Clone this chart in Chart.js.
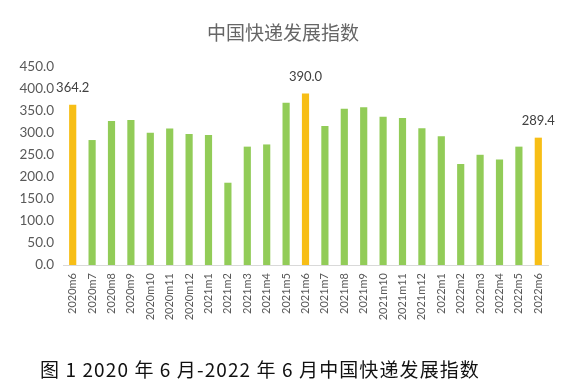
<!DOCTYPE html>
<html>
<head>
<meta charset="utf-8">
<script src="https://cdn.jsdelivr.net/npm/chart.js@4/dist/chart.umd.min.js"></script>
<style>
  html, body { margin: 0; padding: 0; background: #fff; }
  #wrap { position: relative; width: 581px; height: 391px; }
  #caption { position: absolute; left: 40px; top: 355px; font-family: "Noto Sans CJK SC", sans-serif; font-size: 19px; color: #111; white-space: nowrap; letter-spacing: 1.1px; }
</style>
</head>
<body>
<div id="wrap">
  <canvas id="c" width="581" height="391"></canvas>
  <div id="caption">图 1 2020 年 6 月-2022 年 6 月中国快递发展指数</div>
</div>
<script>
const categories = ["2020m6","2020m7","2020m8","2020m9","2020m10","2020m11","2020m12",
  "2021m1","2021m2","2021m3","2021m4","2021m5","2021m6","2021m7","2021m8","2021m9",
  "2021m10","2021m11","2021m12","2022m1","2022m2","2022m3","2022m4","2022m5","2022m6"];
const values = [364.2, 284, 327, 329.5, 300.5, 310.5, 298, 295.5, 187, 269, 274, 369,
  390.0, 316, 355, 358.5, 337, 334, 311, 292.5, 229.5, 250.5, 240, 269, 289.4];
const highlighted = ["2020m6", "2021m6", "2022m6"];
const yTicks = [0, 50, 100, 150, 200, 250, 300, 350, 400, 450];
const titleText = "中国快递发展指数";

const GREEN = "#92CC58", YELLOW = "#F7BE16";
const colors = categories.map(c => highlighted.includes(c) ? YELLOW : GREEN);

const valueLabels = {
  id: "valueLabels",
  afterDatasetsDraw(chart) {
    const ctx = chart.ctx;
    const meta = chart.getDatasetMeta(0);
    ctx.save();
    ctx.font = "13px Lato, sans-serif";
    ctx.fillStyle = "#404040";
    ctx.textAlign = "center";
    ctx.textBaseline = "middle";
    meta.data.forEach((el, i) => {
      if (!highlighted.includes(categories[i])) return;
      ctx.fillText(values[i].toFixed(1), el.x, el.y - 17);
    });
    // chart title
    ctx.font = "19px 'Noto Sans CJK SC', sans-serif";
    ctx.fillStyle = "#666666";
    ctx.fillText(titleText, 283, 33);
    ctx.restore();
  }
};

new Chart(document.getElementById("c"), {
  type: "bar",
  data: {
    labels: categories,
    datasets: [{ data: values, backgroundColor: colors, borderWidth: 0,
      barPercentage: 0.74, categoryPercentage: 0.5 }]
  },
  options: {
    responsive: false,
    animation: false,
    layout: { padding: { left: 0, right: 33, top: 67, bottom: 46 } },
    plugins: {
      legend: { display: false },
      tooltip: { enabled: false },
      title: { display: false }
    },
    scales: {
      x: {
        grid: { display: false, drawTicks: false },
        border: { display: true, color: "#D9D9D9", width: 1 },
        ticks: { color: "#595959", font: { family: "Lato, sans-serif", size: 11 },
          minRotation: 90, maxRotation: 90, padding: 8, autoSkip: false },
        afterFit(s) { s.height = 80; }
      },
      y: {
        min: 0, max: 450,
        grid: { display: false, drawTicks: false },
        border: { display: false },
        afterBuildTicks(s) { s.ticks = yTicks.map(v => ({ value: v })); },
        ticks: { color: "#595959", font: { family: "Lato, sans-serif", size: 13.5 }, padding: 9,
          callback: v => Number(v).toFixed(1) },
        afterFit(s) { s.width = 63; }
      }
    }
  },
  plugins: [valueLabels]
});
</script>
</body>
</html>
